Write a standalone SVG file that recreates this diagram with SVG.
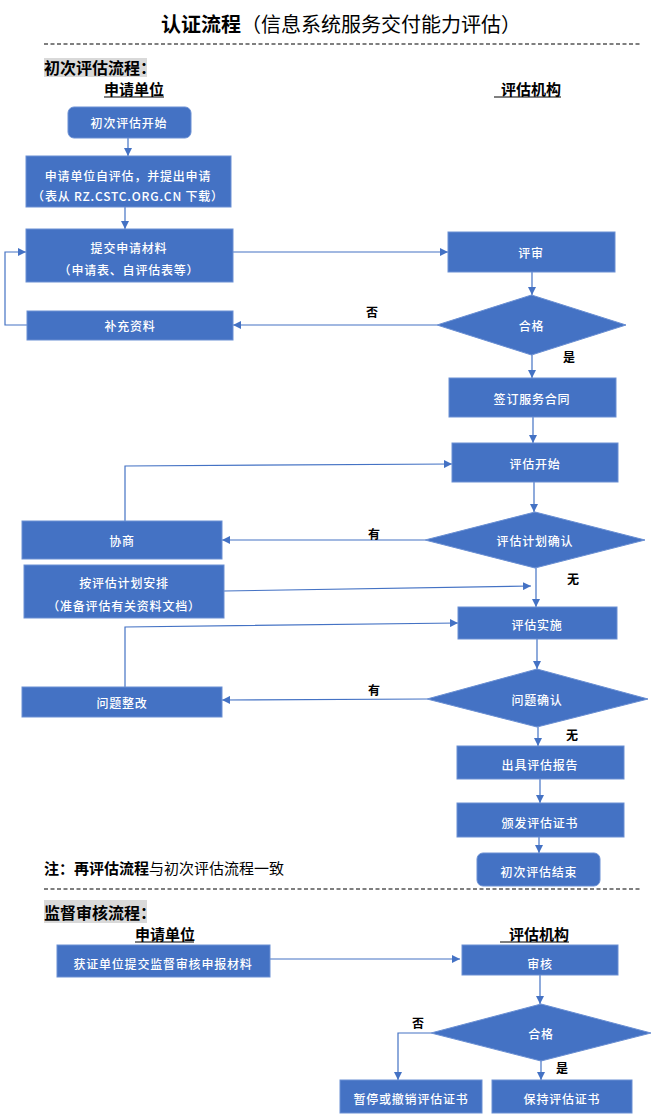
<svg xmlns="http://www.w3.org/2000/svg" width="653" height="1120" viewBox="0 0 653 1120">
<style>
text{font-family:"Noto Sans CJK SC","Liberation Sans",sans-serif;}
.box{fill:#4472C4;stroke:#6A8FD3;stroke-width:1;}
.bt{fill:#fff;font-size:12px;letter-spacing:0.8px;text-anchor:middle;dominant-baseline:central;font-weight:500;}
.lab{fill:#000;font-size:12px;font-weight:bold;text-anchor:middle;dominant-baseline:central;}
.hd{fill:#000;font-size:15px;font-weight:bold;text-anchor:middle;dominant-baseline:central;}
.sec{fill:#000;font-size:16px;font-weight:bold;dominant-baseline:central;}
.ln{fill:none;stroke:#4472C4;stroke-width:1.2;}
.ar{fill:none;stroke:#4472C4;stroke-width:1.2;marker-end:url(#ah);}
.dash{stroke:#000;stroke-width:1.2;stroke-dasharray:4 2.5;}
.ul{stroke:#000;stroke-width:1;}
</style>
<defs>
<marker id="ah" viewBox="0 0 10 10" refX="10" refY="5" markerWidth="8" markerHeight="8" markerUnits="userSpaceOnUse" orient="auto">
<path d="M0,0 L10,5 L0,10 z" fill="#4472C4"/>
</marker>
</defs>
<rect width="653" height="1120" fill="#fff"/>

<g id="header">
<text x="341" y="23" font-size="20" text-anchor="middle" dominant-baseline="central" fill="#000"><tspan font-weight="bold">认证流程</tspan>（信息系统服务交付能力评估）</text>
<line class="dash" x1="44" y1="44" x2="642" y2="44"/>
<rect x="44" y="58" width="103" height="19" fill="#D9D9D9"/>
<text class="sec" x="44" y="67">初次评估流程：</text>
<text class="hd" x="134" y="88">申请单位</text>
<line class="ul" x1="104" y1="97" x2="164" y2="97"/>
<text class="hd" x="531" y="88">评估机构</text>
<line class="ul" x1="494" y1="97" x2="561" y2="97"/>
<text x="44" y="867" font-size="15" fill="#000" dominant-baseline="central"><tspan font-weight="bold">注：再评估流程</tspan>与初次评估流程一致</text>
<line class="dash" x1="44" y1="889" x2="642" y2="889"/>
<rect x="44" y="900" width="103" height="23" fill="#D9D9D9"/>
<text class="sec" x="44" y="912">监督审核流程：</text>
<text class="hd" x="165" y="933">申请单位</text>
<line class="ul" x1="135" y1="942" x2="194" y2="942"/>
<text class="hd" x="539" y="933">评估机构</text>
<line class="ul" x1="500" y1="942" x2="569" y2="942"/>
</g>

<g id="connectors">
<line class="ar" x1="128" y1="138" x2="128" y2="156"/>
<line class="ar" x1="125" y1="207" x2="125" y2="229"/>
<line class="ar" x1="233" y1="252" x2="448" y2="252"/>
<line class="ar" x1="532" y1="272" x2="532" y2="295"/>
<line class="ar" x1="437" y1="325" x2="233" y2="325"/>
<text class="lab" x="372" y="311">否</text>
<polyline class="ar" points="27,325 5,325 5,252 26,252"/>
<text class="lab" x="569" y="356">是</text>
<line class="ar" x1="532" y1="355" x2="532" y2="378"/>
<line class="ar" x1="533" y1="417" x2="533" y2="443"/>
<polyline class="ar" points="125,521 125,466 452,464"/>
<line class="ar" x1="534" y1="482" x2="534" y2="512"/>
<line class="ar" x1="425" y1="540" x2="222" y2="540"/>
<text class="lab" x="374" y="533">有</text>
<line class="ar" x1="224" y1="591" x2="531" y2="586"/>
<text class="lab" x="573" y="578">无</text>
<line class="ar" x1="536" y1="568" x2="536" y2="607"/>
<polyline class="ar" points="125,687 125,627 458,623"/>
<line class="ar" x1="537" y1="639" x2="537" y2="669"/>
<line class="ar" x1="427" y1="699" x2="222" y2="700"/>
<text class="lab" x="374" y="689">有</text>
<text class="lab" x="572" y="734">无</text>
<line class="ar" x1="538" y1="727" x2="538" y2="746"/>
<line class="ar" x1="540" y1="779" x2="540" y2="803"/>
<line class="ar" x1="539" y1="837" x2="539" y2="853"/>
<line class="ar" x1="270" y1="959" x2="460" y2="959"/>
<line class="ar" x1="540" y1="975" x2="540" y2="1004"/>
<polyline class="ar" points="431,1033 398,1033 398,1080"/>
<text class="lab" x="418" y="1022">否</text>
<text class="lab" x="562" y="1067">是</text>
<line class="ar" x1="541" y1="1061" x2="541" y2="1080"/>
</g>

<g id="n-start"><rect class="box" x="68" y="107" width="123" height="31" rx="6"/><text class="bt" x="129" y="122">初次评估开始</text></g>
<g id="n-self"><rect class="box" x="26" y="156" width="205" height="51"/><text class="bt" x="128" y="175">申请单位自评估，并提出申请</text><text class="bt" x="128" y="195">（表从 RZ.CSTC.ORG.CN 下载）</text></g>
<g id="n-submit"><rect class="box" x="26" y="229" width="207" height="53"/><text class="bt" x="129" y="247">提交申请材料</text><text class="bt" x="129" y="269">（申请表、自评估表等）</text></g>
<g id="n-review"><rect class="box" x="448" y="232" width="167" height="40"/><text class="bt" x="531" y="252">评审</text></g>
<g id="n-pass1"><polygon class="box" points="531.5,295 626,325 531.5,355 437,325"/><text class="bt" x="531.5" y="325">合格</text></g>
<g id="n-supp"><rect class="box" x="27" y="311" width="206" height="29"/><text class="bt" x="130" y="325">补充资料</text></g>
<g id="n-contract"><rect class="box" x="449" y="378" width="167" height="39"/><text class="bt" x="532" y="398">签订服务合同</text></g>
<g id="n-evalstart"><rect class="box" x="452" y="443" width="166" height="39"/><text class="bt" x="535" y="463">评估开始</text></g>
<g id="n-plan"><polygon class="box" points="535,512 645,540 535,568 425,540"/><text class="bt" x="535" y="540">评估计划确认</text></g>
<g id="n-nego"><rect class="box" x="22" y="521" width="200" height="38"/><text class="bt" x="122" y="540">协商</text></g>
<g id="n-arrange"><rect class="box" x="24" y="565" width="200" height="53"/><text class="bt" x="124" y="582">按评估计划安排</text><text class="bt" x="124" y="605">（准备评估有关资料文档）</text></g>
<g id="n-impl"><rect class="box" x="458" y="607" width="159" height="32"/><text class="bt" x="537" y="624">评估实施</text></g>
<g id="n-issue"><polygon class="box" points="537,669 648,699 537,727 427,699"/><text class="bt" x="537" y="699">问题确认</text></g>
<g id="n-fix"><rect class="box" x="22" y="687" width="200" height="30"/><text class="bt" x="122" y="702">问题整改</text></g>
<g id="n-report"><rect class="box" x="457" y="746" width="167" height="33"/><text class="bt" x="540" y="764">出具评估报告</text></g>
<g id="n-cert"><rect class="box" x="457" y="803" width="167" height="34"/><text class="bt" x="540" y="822">颁发评估证书</text></g>
<g id="n-end"><rect class="box" x="477" y="853" width="123" height="33" rx="6"/><text class="bt" x="539" y="871">初次评估结束</text></g>
<g id="n-supmat"><rect class="box" x="57" y="945" width="213" height="32"/><text class="bt" x="163" y="963">获证单位提交监督审核申报材料</text></g>
<g id="n-audit"><rect class="box" x="462" y="945" width="156" height="30"/><text class="bt" x="540" y="963">审核</text></g>
<g id="n-pass2"><polygon class="box" points="541,1004 651,1033 541,1061 431,1033"/><text class="bt" x="541" y="1033">合格</text></g>
<g id="n-revoke"><rect class="box" x="340" y="1080" width="142" height="33"/><text class="bt" x="411" y="1098">暂停或撤销评估证书</text></g>
<g id="n-keep"><rect class="box" x="492" y="1080" width="140" height="33"/><text class="bt" x="562" y="1098">保持评估证书</text></g>
</svg>
